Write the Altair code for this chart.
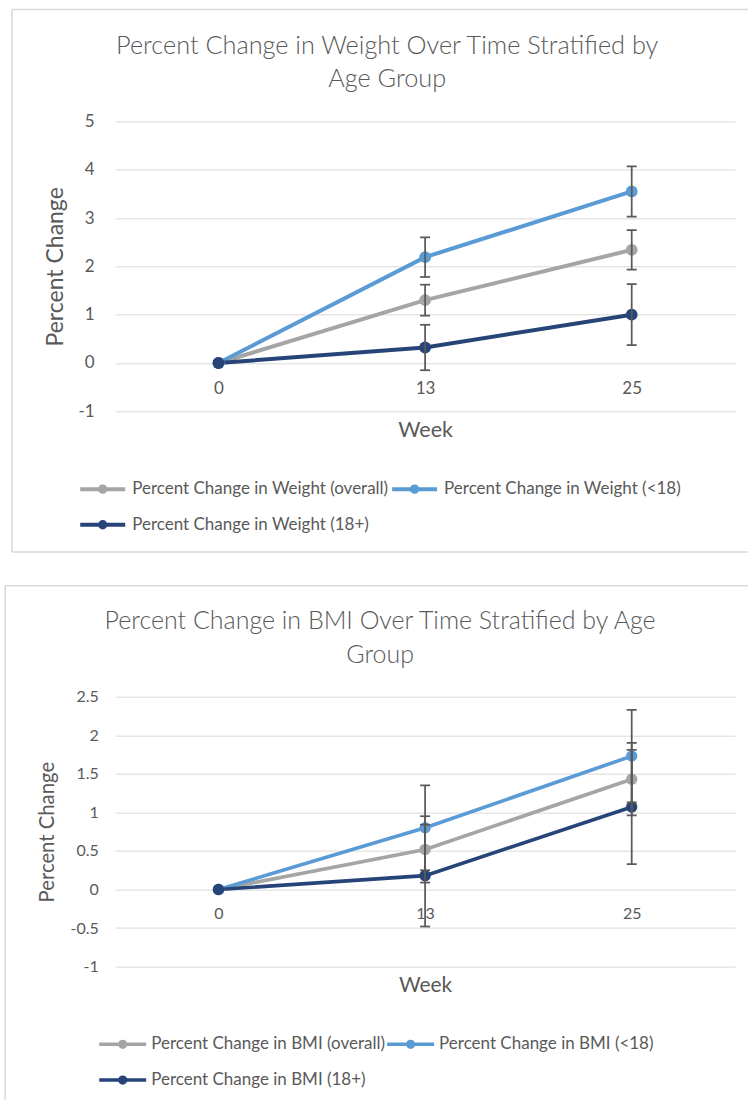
import altair as alt
import pandas as pd

# ---------------- data ----------------
weeks = ["0", "13", "25"]

weight_series = [
    "Percent Change in Weight (overall)",
    "Percent Change in Weight (<18)",
    "Percent Change in Weight (18+)",
]
weight_overall = [0, 1.30, 2.34]
weight_overall_err = [None, 0.32, 0.41]
weight_lt18 = [0, 2.19, 3.55]
weight_lt18_err = [None, 0.41, 0.52]
weight_18p = [0, 0.32, 1.00]
weight_18p_err = [None, 0.47, 0.63]

bmi_series = [
    "Percent Change in BMI (overall)",
    "Percent Change in BMI (<18)",
    "Percent Change in BMI (18+)",
]
bmi_overall = [0, 0.52, 1.43]
bmi_overall_err = [None, 0.43, 0.47]
bmi_lt18 = [0, 0.80, 1.73]
bmi_lt18_err = [None, 0.55, 0.60]
bmi_18p = [0, 0.18, 1.07]
bmi_18p_err = [None, 0.66, 0.74]

weight_ticks = [-1, 0, 1, 2, 3, 4, 5]
bmi_ticks = [-1, -0.5, 0, 0.5, 1, 1.5, 2, 2.5]

colors = ["#A5A5A5", "#5B9BD5", "#264478"]
ERR_COLOR = "#595959"
TEXT_COLOR = "#595959"
GRID_COLOR = "#D9D9D9"
FRAME_COLOR = "#D9D9D9"
FONT = "Lato"


def build_df(names, values, errs):
    rows = []
    for name, vals, es in zip(names, values, errs):
        for w, v, e in zip(weeks, vals, es):
            rows.append({
                "week": w, "series": name, "value": v,
                "lo": None if e is None else v - e,
                "hi": None if e is None else v + e,
            })
    return pd.DataFrame(rows)


weight_df = build_df(weight_series,
                     [weight_overall, weight_lt18, weight_18p],
                     [weight_overall_err, weight_lt18_err, weight_18p_err])
bmi_df = build_df(bmi_series,
                  [bmi_overall, bmi_lt18, bmi_18p],
                  [bmi_overall_err, bmi_lt18_err, bmi_18p_err])

LEGEND_SYMBOL = "M-1,0L1,0M0.12,0A0.12,0.12,0,1,1,-0.12,0A0.12,0.12,0,1,1,0.12,0Z"
ONE = alt.Data(values=[{"k": 1}])


def panel(df, names, ticks, width, height, cfg):
    x_enc = alt.X(
        "week:N", sort=weeks,
        scale=alt.Scale(type="point", padding=0.5),
        axis=alt.Axis(
            title="Week", titleFont=FONT, titleFontSize=cfg["week_size"],
            titleFontWeight="normal", titleColor=TEXT_COLOR,
            titleY=cfg["week_y"], titleBaseline="middle",
            labelFont=FONT, labelFontSize=cfg["tick_size"], labelColor=TEXT_COLOR,
            labelAngle=0, labelBaseline="middle", labelPadding=cfg["xlab_pad"],
            ticks=False, tickSize=0, domain=False, grid=False,
        ),
    )
    y_scale = alt.Scale(domain=[ticks[0], ticks[-1]], nice=False, zero=False)
    y_axis = alt.Axis(
        title="Percent Change", titleFont=FONT, titleFontSize=cfg["ytitle_size"],
        titleFontWeight="normal", titleColor=TEXT_COLOR,
        titleX=cfg["ytitle_x"], titleY=height / 2, titleAngle=270,
        titleBaseline="middle", titleAlign="center",
        values=ticks, labelExpr="'' + datum.value",
        labelFont=FONT, labelFontSize=cfg["tick_size"], labelColor=TEXT_COLOR,
        labelPadding=cfg["ylab_pad"],
        grid=True, gridColor=GRID_COLOR, gridWidth=1,
        ticks=False, tickSize=0, domain=False,
    )

    base = alt.Chart(df)
    line = base.mark_line(strokeWidth=cfg["lw"]).encode(
        x=x_enc,
        y=alt.Y("value:Q", scale=y_scale, axis=y_axis),
        color=alt.Color(
            "series:N",
            scale=alt.Scale(domain=names, range=colors),
            legend=alt.Legend(
                title=None, orient="none", direction="horizontal",
                legendX=cfg["legend_x"], legendY=cfg["legend_y"],
                columns=2, columnPadding=cfg["col_pad"], rowPadding=cfg["row_pad"],
                labelFont=FONT, labelFontSize=cfg["legend_size"], labelColor=TEXT_COLOR,
                labelLimit=0, labelOffset=cfg["label_off"],
                symbolType=LEGEND_SYMBOL, symbolSize=cfg["sym_size"],
                symbolStrokeWidth=cfg["lw"], symbolOpacity=1,
            ),
        ),
        order=alt.Order("week:O"),
    )
    points = base.mark_point(filled=True, size=cfg["pt_size"], opacity=1).encode(
        x=x_enc,
        y=alt.Y("value:Q", scale=y_scale, axis=y_axis),
        color=alt.Color("series:N", scale=alt.Scale(domain=names, range=colors), legend=None),
    )
    err_base = base.transform_filter("datum.lo != null")
    err_rule = err_base.mark_rule(color=ERR_COLOR, strokeWidth=1.75).encode(
        x=x_enc,
        y=alt.Y("lo:Q", scale=y_scale, axis=y_axis),
        y2="hi:Q",
    )
    cap_lo = err_base.mark_tick(color=ERR_COLOR, thickness=1.75, size=10, opacity=1).encode(
        x=x_enc, y=alt.Y("lo:Q", scale=y_scale, axis=y_axis),
    )
    cap_hi = err_base.mark_tick(color=ERR_COLOR, thickness=1.75, size=10, opacity=1).encode(
        x=x_enc, y=alt.Y("hi:Q", scale=y_scale, axis=y_axis),
    )

    frames = []
    for (x1, x2, y1, y2) in cfg["frame"]:
        frames.append(
            alt.Chart(ONE).mark_rule(color=FRAME_COLOR, strokeWidth=1.5).encode(
                x=alt.value(x1), x2=alt.value(x2), y=alt.value(y1), y2=alt.value(y2)
            )
        )
    titles = []
    for (txt, tx, ty) in cfg["title"]:
        titles.append(
            alt.Chart(ONE).mark_text(
                font=FONT, fontSize=cfg["title_size"], color=TEXT_COLOR,
                align="center", baseline="middle", fontWeight=300,
            ).encode(x=alt.value(tx), y=alt.value(ty), text=alt.value(txt))
        )

    return alt.layer(*frames, line, points, err_rule, cap_lo, cap_hi, *titles).properties(
        width=width, height=height
    )


top_cfg = dict(
    lw=4, pt_size=140, tick_size=17, week_size=21.5, week_y=19, xlab_pad=-23,
    ytitle_size=23, ytitle_x=-60, ylab_pad=21,
    legend_x=-37, legend_y=343, col_pad=-5, row_pad=-7, legend_size=17,
    label_off=5, sym_size=2025,
    title_size=25.3,
    title=[("Percent Change in Weight Over Time Stratified by", 272, -75),
           ("Age Group", 272, -42)],
    frame=[(-103.3, 633, -112, -112), (-103.3, -103.3, -112, 430.7),
           (-103.3, 633, 430.7, 430.7)],
)
bot_cfg = dict(
    lw=3.6, pt_size=130, tick_size=16, week_size=21, week_y=19, xlab_pad=-52.7,
    ytitle_size=20.3, ytitle_x=-67.5, ylab_pad=17,
    legend_x=-18, legend_y=322, col_pad=-10, row_pad=-2, legend_size=17,
    label_off=3, sym_size=2209,
    title_size=25,
    title=[("Percent Change in BMI Over Time Stratified by Age", 265, -75.7),
           ("Group", 265, -41.7)],
    frame=[(-110, 633, -111, -111), (-110, -110, -111, 403.5)],
)

top = panel(weight_df, weight_series, weight_ticks, 620, 290, top_cfg)
bottom = panel(bmi_df, bmi_series, bmi_ticks, 620, 270, bot_cfg)

chart = (
    alt.vconcat(top, bottom, spacing=31.5)
    .resolve_scale(color="independent", x="independent", y="independent")
    .resolve_legend(color="independent")
    .properties(padding={"left": 4.25, "top": 8.25, "right": 0, "bottom": 0},
                background="white")
    .configure(font=FONT)
    .configure_view(stroke="transparent", strokeWidth=0)
)

chart.save("out.html", embed_options={"renderer": "svg", "actions": False})
